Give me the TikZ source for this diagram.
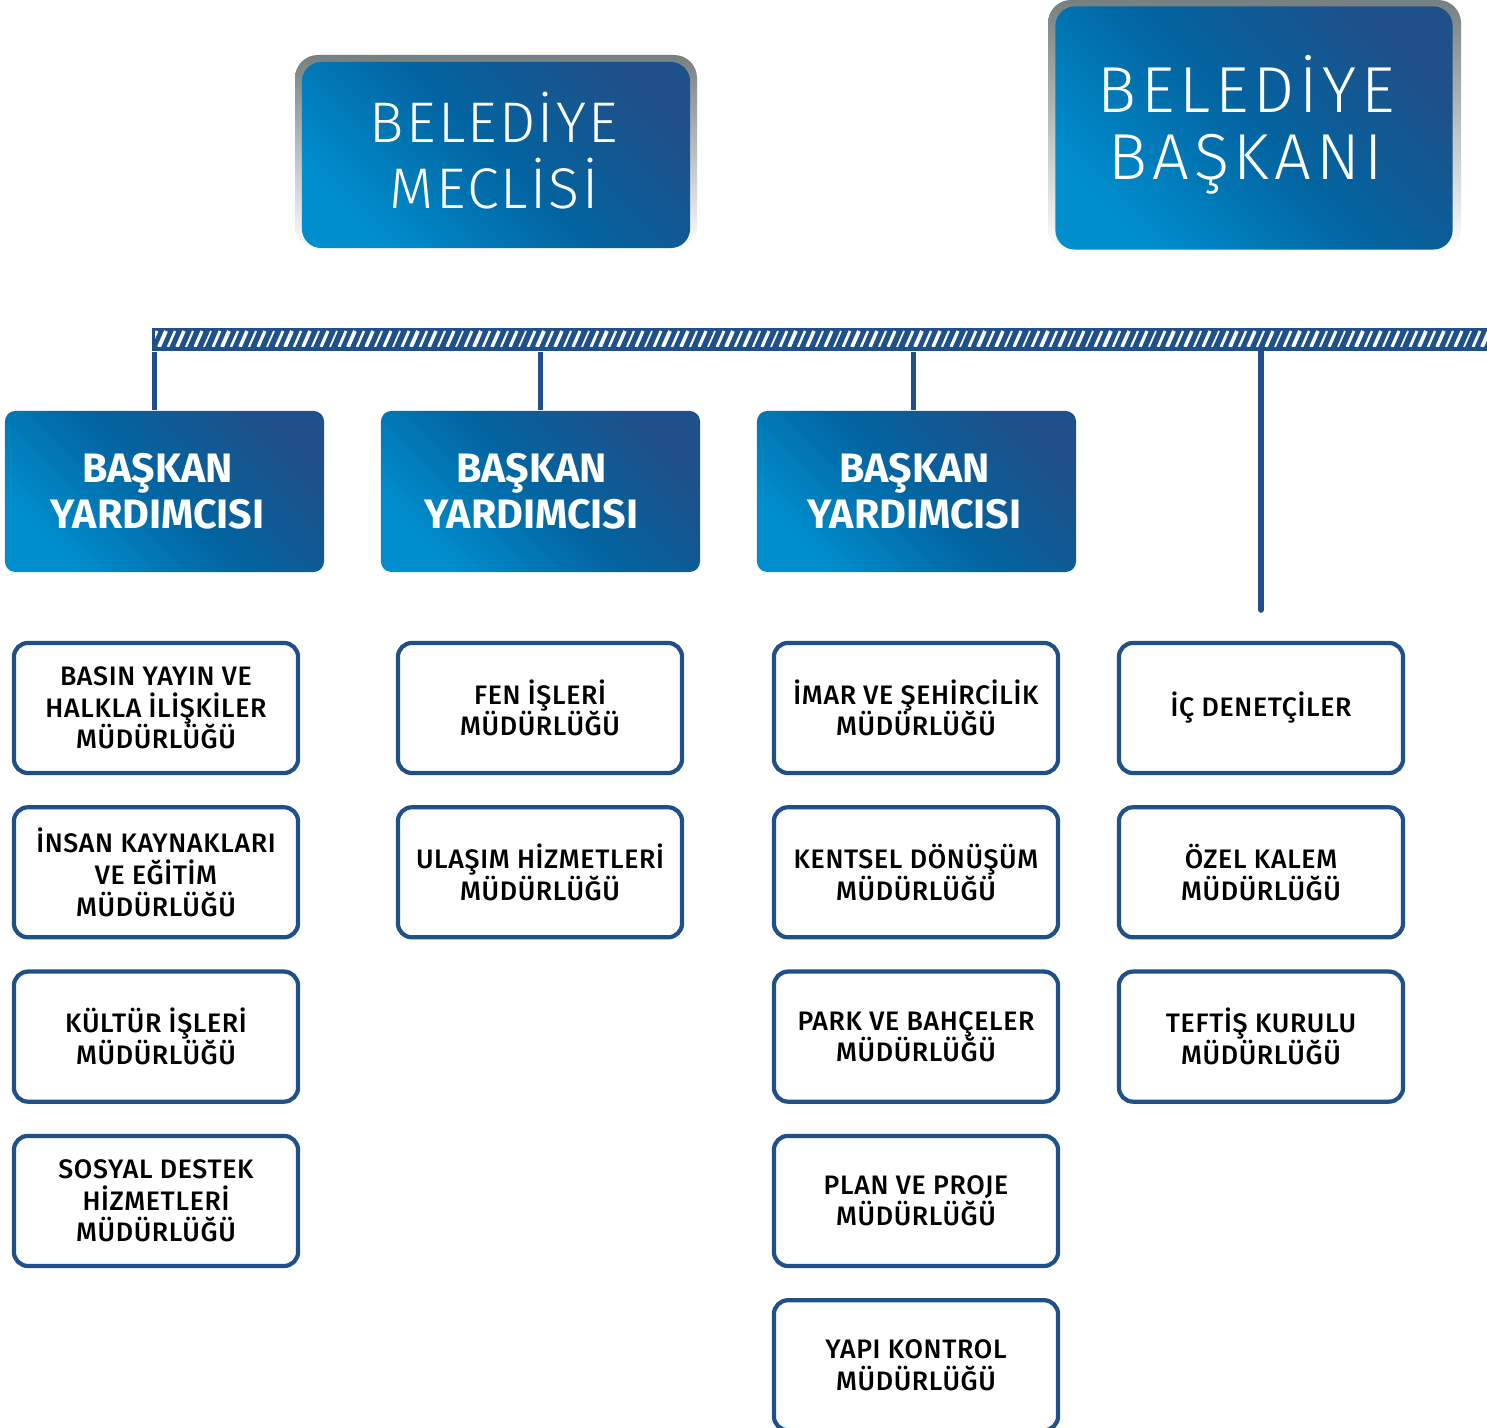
\documentclass[tikz,border=0pt]{standalone}
\usepackage{fontspec}
\setmainfont{Fira Sans}
\newfontfamily\lightfont[LetterSpace=4]{Fira Sans Light}
\newfontfamily\widefont[LetterSpace=7.5]{Fira Sans Light}
\newfontfamily\medfont[LetterSpace=2.5]{Fira Sans Medium}
\newcommand\freelines{\lineskiplimit-10pt\relax}
\usetikzlibrary{positioning}

\definecolor{darkblue}{RGB}{31,80,137}
\definecolor{midblue}{RGB}{2,100,160}
\definecolor{lightblue}{RGB}{0,142,206}
\definecolor{rimgray}{RGB}{118,128,128}

\tikzset{
    rim/.style={rounded corners=6.5pt,top color=rimgray,bottom color=white},
    topbox/.style={rounded corners=5.5pt,top color=darkblue,bottom color=lightblue,
        middle color=midblue,shading angle=-45,inner sep=0pt},
    headtext/.style={text=white,align=center,inner sep=0pt},
    vicebox/.style={topbox,rounded corners=3pt,minimum width=3.19cm,minimum height=1.61cm},
    vicetext/.style={headtext,font=\fontsize{11.7}{13}\selectfont\bfseries\freelines},
    unitbox/.style={draw=darkblue,line width=1.2pt,fill=white,rounded corners=4pt,
        minimum width=2.84cm,minimum height=1.30cm,align=center,inner sep=0pt,
        font=\medfont\fontsize{7.6}{9}\selectfont\freelines},
    link/.style={draw=darkblue,line width=1.7pt},
}

\begin{document}
\begin{tikzpicture}[x=0.01cm,y=-0.01cm]
    \useasboundingbox (0,0) rectangle (1487,1428);

    % top level
    \shade[rim] (295,55) rectangle (697,250);
    \node[topbox,minimum width=3.88cm,minimum height=1.86cm] (meclis) at (496,155) {};
    \node[headtext,font=\lightfont\fontsize{16.3}{18.8}\selectfont\freelines]
        at ([xshift=-0.02cm,yshift=0.04cm]meclis.center) {BELEDİYE\\MECLİSİ};
    \shade[rim] (1048,0) rectangle (1461,252);
    \node[topbox,minimum width=3.97cm,minimum height=2.43cm] (baskan) at (1254,128) {};
    \node[headtext,font=\widefont\fontsize{18.5}{19}\selectfont\freelines]
        at ([xshift=-0.08cm,yshift=0.03cm]baskan.center) {BELEDİYE\\BAŞKANI};

    % hatched bar
    \node[fill=darkblue,minimum width=13.35cm,minimum height=0.23cm,inner sep=0pt] (bar) at (819.5,339.5) {};
    \begin{scope}
        \clip (155,331) rectangle (1487,347);
        \foreach \x [count=\i] in {150,159,...,1490}{
            \pgfmathsetmacro\w{0.5+0.1*mod(\i*3,7)}
            \draw[white,line width=\w pt] (\x,347) -- (\x+7,331);
        }
    \end{scope}

    % deputies
    \node[vicebox] (v1) at (164.5,491.5) {};
    \node[vicebox] (v2) at (540.5,491.5) {};
    \node[vicebox] (v3) at (916.5,491.5) {};
    \node[vicetext] at ([xshift=-0.07cm]v1.center) {BAŞKAN\\YARDIMCISI};
    \node[vicetext] at ([xshift=-0.09cm]v2.center) {BAŞKAN\\YARDIMCISI};
    \node[vicetext] at ([xshift=-0.02cm]v3.center) {BAŞKAN\\YARDIMCISI};

    % column 1
    \node[unitbox] (a1) at (156,708) {BASIN YAYIN VE\\HALKLA İLİŞKİLER\\MÜDÜRLÜĞÜ};
    \node[unitbox,below=0.30cm of a1] (a2) {İNSAN KAYNAKLARI\\VE EĞİTİM\\MÜDÜRLÜĞÜ};
    \node[unitbox,below=0.30cm of a2] (a3) {KÜLTÜR İŞLERİ\\MÜDÜRLÜĞÜ};
    \node[unitbox,below=0.30cm of a3] (a4) {SOSYAL DESTEK\\HİZMETLERİ\\MÜDÜRLÜĞÜ};

    % column 2
    \node[unitbox] (b1) at (540,708) {FEN İŞLERİ\\MÜDÜRLÜĞÜ};
    \node[unitbox,below=0.30cm of b1] (b2) {ULAŞIM HİZMETLERİ\\MÜDÜRLÜĞÜ};

    % column 3
    \node[unitbox] (c1) at (916,708) {İMAR VE ŞEHİRCİLİK\\MÜDÜRLÜĞÜ};
    \node[unitbox,below=0.30cm of c1] (c2) {KENTSEL DÖNÜŞÜM\\MÜDÜRLÜĞÜ};
    \node[unitbox,below=0.30cm of c2] (c3) {PARK VE BAHÇELER\\MÜDÜRLÜĞÜ};
    \node[unitbox,below=0.30cm of c3] (c4) {PLAN VE PROJE\\MÜDÜRLÜĞÜ};
    \node[unitbox,below=0.30cm of c4] (c5) {YAPI KONTROL\\MÜDÜRLÜĞÜ};

    % column 4
    \node[unitbox] (d1) at (1261,708) {İÇ DENETÇİLER};
    \node[unitbox,below=0.30cm of d1] (d2) {ÖZEL KALEM\\MÜDÜRLÜĞÜ};
    \node[unitbox,below=0.30cm of d2] (d3) {TEFTİŞ KURULU\\MÜDÜRLÜĞÜ};

    % links from the bar
    \coordinate (tail) at ([yshift=0.31cm]d1.north);
    \draw[link] ([xshift=-0.1cm]v1.north) -- ([xshift=-0.1cm]v1.north |- bar.south);
    \draw[link] (v2.north) -- (v2.north |- bar.south);
    \draw[link] ([xshift=-0.03cm]v3.north) -- ([xshift=-0.03cm]v3.north |- bar.south);
    \draw[link,line cap=round] (tail) -- (tail |- bar.south);
\end{tikzpicture}
\end{document}
